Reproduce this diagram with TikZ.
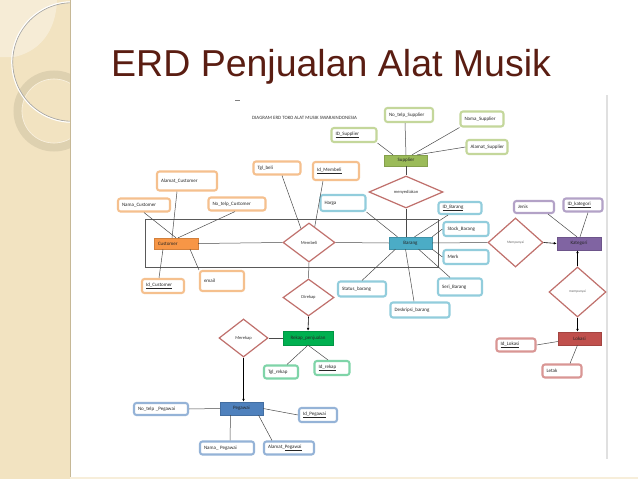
\documentclass[tikz,border=0pt]{standalone}
\usepackage{fontspec}
\setmainfont{Carlito}
\newfontfamily\titlefont{Liberation Sans}
\usetikzlibrary{arrows.meta,shapes.geometric,calc}
\definecolor{strip}{HTML}{F2E3C1}
\definecolor{stripedge}{HTML}{C6B896}
\definecolor{ringc}{HTML}{D8CBAB}
\definecolor{titlec}{HTML}{5A1D12}
\definecolor{oB}{HTML}{F5C08E}
\definecolor{gB}{HTML}{C4D79B}
\definecolor{bB}{HTML}{92CDDC}
\definecolor{tB}{HTML}{7FD4A8}
\definecolor{pB}{HTML}{95B3D7}
\definecolor{vB}{HTML}{B3A2C7}
\definecolor{rB}{HTML}{D99694}
\definecolor{cE}{HTML}{F79646}
\definecolor{sE}{HTML}{9BBB59}
\definecolor{bE}{HTML}{4BACC6}
\definecolor{rE}{HTML}{00B050}
\definecolor{pE}{HTML}{4F81BD}
\definecolor{kE}{HTML}{8064A2}
\definecolor{lE}{HTML}{C0504D}
\definecolor{dia}{HTML}{C0706C}
\definecolor{conn}{HTML}{4A4A4A}
\tikzset{
  attr/.style={draw=#1, line width=2.1pt, rounded corners=2.5pt, fill=white,
    inner xsep=4pt, inner ysep=0pt, align=left, text=black!85,
    font=\fontsize{5}{6}\selectfont},
  ent/.style={fill=#1, draw=#1!85!black, line width=0.3pt, inner sep=0pt,
    text=black!85, font=\fontsize{5}{6}\selectfont},
  rel/.style={diamond, draw=dia, line width=1.2pt, fill=white, inner sep=0pt,
    aspect=2, text=black!80, font=\fontsize{4.5}{5}\selectfont},
  conline/.style={draw=conn, line width=0.5pt},
  arrline/.style={draw=black, line width=0.6pt, -{Latex[length=3pt,width=2.6pt]}},
}
\begin{document}
\begin{tikzpicture}[x=1pt,y=-1pt]
\useasboundingbox (0,0) rectangle (638,479);
\fill[white] (0,0) rectangle (638,479);
% left decorative strip
\fill[strip] (0,0) rectangle (70,479);
\fill[white,opacity=0.35] (0,0) -- (57,0) .. controls (56,33) and (38,52) .. (14,57) -- (0,57) -- cycle;
\begin{scope}
\clip (0,0) rectangle (70,479);
\draw[ringc, line width=8pt, opacity=0.75] (54,111) circle[radius=36.5];
\draw[white, opacity=0.5, line width=0.6pt] (54,111) circle[radius=32];
\draw[black!35, line width=0.8pt] (72,62) circle[radius=59.3];
\draw[white, line width=1pt] (72,62) circle[radius=60.3];
\end{scope}
\draw[stripedge, line width=1pt] (70,0) -- (70,479);
\draw[strip!60, line width=1.5pt] (70,478) -- (638,478);
\draw[black!12, line width=1.2pt] (607,95) -- (607,459);
% title
\node[anchor=base west, inner sep=0pt, text=titlec, font=\titlefont\fontsize{37.5}{40}\selectfont] (title) at (111,76) {ERD Penjualan Alat Musik};
\draw[black!50, line width=0.6pt] (235,100.5) -- (240,100.5);
\node[anchor=west, inner sep=0pt, text=black!80, font=\fontsize{4.9}{5.5}\selectfont] (hdr) at (252,118) {DIAGRAM ERD TOKO ALAT MUSIK SWARAINDONESIA};
% big rectangle
\draw[black!65, line width=0.8pt] (145,219) rectangle (438,267);

% entities
\node[ent=cE, minimum width=44pt, minimum height=11pt, text width=36pt, align=left, inner xsep=4pt] (cust) at (176,243.5) {Customer};
\node[ent=sE, minimum width=43pt, minimum height=11pt] (supplier) at (406,160.5) {Supplier};
\node[ent=bE, minimum width=43pt, minimum height=12pt] (barang) at (410.5,243) {Barang};
\node[ent=rE, minimum width=50pt, minimum height=14pt] (rekap) at (308,338) {Rekap\_penjualan};
\node[ent=pE, minimum width=43pt, minimum height=13pt] (pegawai) at (241.5,408.5) {Pegawai};
\node[ent=kE, minimum width=44pt, minimum height=13pt] (kategori) at (579,243.5) {Kategori};
\node[ent=lE, minimum width=43pt, minimum height=13pt] (lokasi) at (579.5,338.5) {Lokasi};

% relationships
\node[rel, minimum width=52pt, minimum height=39pt] (membeli) at (309,242.5) {Membeli};
\node[rel, minimum width=74pt, minimum height=32pt] (menyediakan) at (406,192) {menyediakan};
\node[rel, minimum width=51pt, minimum height=37pt] (direkap) at (308.5,297.5) {Direkap};
\node[rel, minimum width=49pt, minimum height=38pt] (merekap) at (243.5,338) {Merekap};
\node[rel, minimum width=55pt, minimum height=49pt, font=\fontsize{3.5}{4}\selectfont, text=black!60] (mem1) at (515.5,242.5) {Mempunyai};
\node[rel, minimum width=57pt, minimum height=50pt, font=\fontsize{3.5}{4}\selectfont, text=black!60] (mem2) at (577.5,292) {mempunyai};

% attributes: customer
\node[attr=oB, text width=44pt, minimum height=13pt] (nama) at (144,205) {Nama\_Customer};
\node[attr=oB, text width=52pt, minimum height=19pt] (alamatc) at (187,181) {Alamat\_Customer};
\node[attr=oB, text width=49pt, minimum height=13pt] (notelpc) at (237,204) {No\_telp\_Customer};
\node[attr=oB, text width=39pt, minimum height=13pt] (tglbeli) at (277,168) {Tgl\_beli};
\node[attr=oB, text width=34pt, minimum height=14pt] (idcust) at (163,286) {\underline{Id\_Customer}};
\node[attr=oB, text width=36pt, minimum height=20pt] (email) at (222,281) {email};
\node[attr=oB, text width=38pt, minimum height=18pt] (idmembeli) at (336,171) {\underline{Id\_Membeli}};
% supplier
\node[attr=gB, text width=40pt, minimum height=14pt] (nosupp) at (409,115) {No\_telp\_Supplier};
\node[attr=gB, text width=35pt, minimum height=15pt] (namasupp) at (482,119) {Nama\_Supplier};
\node[attr=gB, text width=37pt, minimum height=14pt] (idsupp) at (354,135) {\underline{ID\_Supplier}};
\node[attr=gB, text width=33pt, minimum height=14pt] (alamatsupp) at (487,147) {Alamat\_Supplier};
% barang
\node[attr=bB, text width=37pt, minimum height=16pt] (harga) at (343,203) {Harga};
\node[attr=bB, text width=35pt, minimum height=12pt] (idbarang) at (460,208) {\underline{ID\_Barang}};
\node[attr=bB, text width=37pt, minimum height=14pt] (stock) at (466,229) {Stock\_Barang};
\node[attr=bB, text width=37pt, minimum height=14pt] (merk) at (466,257) {Merk};
\node[attr=bB, text width=36pt, minimum height=17pt] (seri) at (460,287) {Seri\_Barang};
\node[attr=bB, text width=51pt, minimum height=15pt] (desk) at (420,310) {Deskripsi\_barang};
\node[attr=bB, text width=40pt, minimum height=15pt] (status) at (362,289) {Status\_barang};
% rekap
\node[attr=tB, text width=26pt, minimum height=13pt] (tglrekap) at (281,372) {Tgl\_rekap};
\node[attr=tB, text width=27pt, minimum height=14pt] (idrekap) at (332,368) {\underline{Id\_rekap}};
% pegawai
\node[attr=pB, text width=46pt, minimum height=12pt] (notelpp) at (161,409) {No\_telp \_Pegawai};
\node[attr=pB, text width=30pt, minimum height=14pt] (idpeg) at (318,415) {\underline{Id\_Pegawai}};
\node[attr=pB, text width=46pt, minimum height=13pt] (namapeg) at (227,448) {Nama\_ Pegawai};
\node[attr=pB, text width=42pt, minimum height=13pt] (alamatpeg) at (289,448) {Alamat\_\underline{Pegawai}};
% kategori / lokasi
\node[attr=vB, text width=32pt, minimum height=12pt] (jenis) at (534,207) {Jenis};
\node[attr=vB, text width=31pt, minimum height=13pt] (idkat) at (583,205) {\underline{ID\_kategori}};
\node[attr=rB, text width=31pt, minimum height=13pt] (idlokasi) at (516,345) {\underline{Id\_Lokasi}};
\node[attr=rB, text width=31pt, minimum height=13pt] (letak) at (562,371) {Letak};

% connectors: customer
\path[conline] (nama.south) -- (cust.north);
\path[conline] ([xshift=-10pt]alamatc.south) -- ([xshift=-4pt]cust.north);
\path[conline] ([xshift=-2pt]notelpc.south) -- ([xshift=2pt]cust.north);
\path[conline] ([xshift=-4pt]idcust.north) -- ([xshift=-13pt]cust.south);
\path[conline] (email.north west) -- ([xshift=14pt]cust.south);
\path[conline] (cust.east) -- (membeli.west);
% membeli
\path[conline] ([xshift=5pt]tglbeli.south) -- (membeli.120);
\path[conline] ([xshift=-13pt]idmembeli.south) -- (membeli.70);
\path[conline] (membeli.east) -- (barang.west);
\path[conline] (membeli.south) -- (direkap.north);
\path[arrline] (direkap.south) -- (rekap.north);
% supplier
\path[conline] ([xshift=-4pt]nosupp.south) -- (supplier.north);
\path[conline] (namasupp.south west) -- ([xshift=6pt]supplier.north);
\path[conline] (idsupp.south east) -- ([xshift=-13pt]supplier.north);
\path[conline] (alamatsupp.west) -- ([xshift=11pt]supplier.north);
\path[conline] (supplier.south) -- (menyediakan.north);
\path[conline] (menyediakan.south) -- (menyediakan.south |- barang.north);
% barang
\path[conline] (harga.south east) -- ([xshift=-13pt]barang.north);
\path[conline] ([xshift=-12pt]idbarang.south) -- ([xshift=4pt]barang.north);
\path[conline] (stock.west) -- (barang.north east);
\path[conline] (merk.west) -- (barang.south east);
\path[conline] ([xshift=-10pt]seri.north) -- ([xshift=8pt]barang.south);
\path[conline] ([xshift=-6pt]desk.north) -- ([xshift=-5pt]barang.south);
\path[conline] (status.north) -- ([xshift=-15pt]barang.south);
\path[conline] (barang.east) -- (mem1.west);
\path[arrline] (mem1.east) -- (kategori.west);
% kategori / lokasi
\path[conline] ([xshift=14pt]jenis.south) -- ([xshift=-2pt]kategori.north);
\path[conline] ([xshift=5pt]idkat.south) -- ([xshift=1pt]kategori.north);
\path[arrline] (mem2.north) -- (mem2.north |- kategori.south);
\path[arrline] (mem2.south) -- (mem2.south |- lokasi.north);
\path[conline] (idlokasi.east) -- ([yshift=-3pt]lokasi.west);
\path[conline] ([xshift=8pt]letak.north) -- ([xshift=-2pt]lokasi.south);
% rekap
\path[conline] (merekap.east) -- (rekap.west);
\path[conline] (rekap.south) -- ([xshift=6pt]tglrekap.north);
\path[conline] (rekap.south) -- ([xshift=-4pt]idrekap.north);
\path[arrline] (merekap.south) -- (merekap.south |- pegawai.north);
% pegawai
\path[conline] (notelpp.east) -- (pegawai.west);
\path[conline] (pegawai.east) -- (idpeg.west);
\path[conline] ([xshift=3pt]namapeg.north) -- ([xshift=-11pt]pegawai.south);
\path[conline] ([xshift=-17pt]alamatpeg.north) -- ([xshift=17pt]pegawai.south);
\end{tikzpicture}
\end{document}
